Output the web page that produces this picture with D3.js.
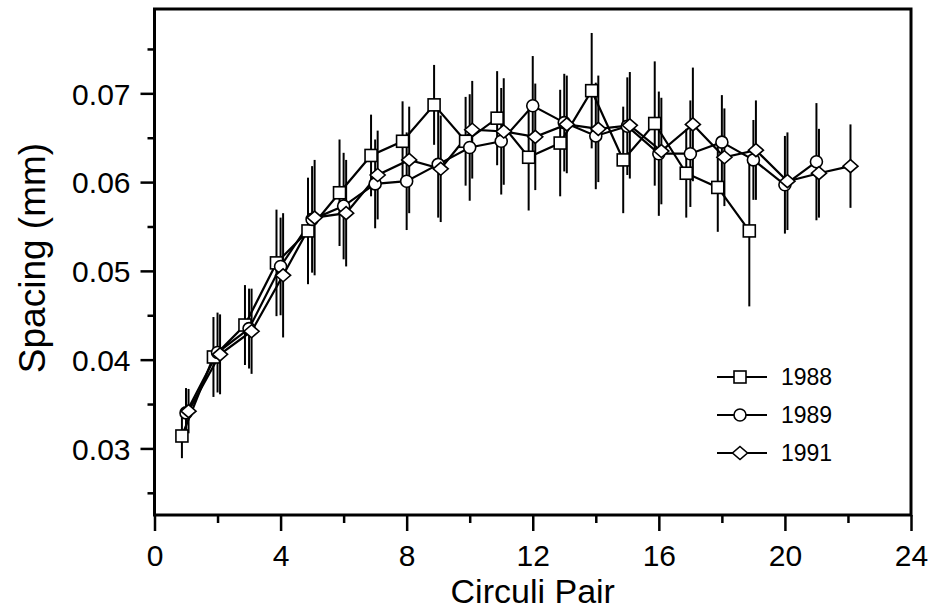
<!DOCTYPE html>
<html><head><meta charset="utf-8">
<script src="https://cdn.jsdelivr.net/npm/d3@7"></script>
<style>body{margin:0;background:#fff}svg{display:block}text{font-family:"Liberation Sans",Arial,sans-serif;fill:#000}</style>
</head><body><svg id="c" width="933" height="615"></svg>
<script>
const pairs1988 = [1,2,3,4,5,6,7,8,9,10,11,12,13,14,15,16,17,18,19];
const vals1988 = [0.0314,0.0403,0.0439,0.0509,0.0545,0.0588,0.0630,0.0646,0.0687,0.0646,0.0672,0.0628,0.0644,0.0703,0.0625,0.0666,0.0610,0.0594,0.0545];
const err1988 = [0.0025,0.0045,0.0045,0.006,0.006,0.006,0.0046,0.0045,0.0045,0.005,0.0053,0.006,0.006,0.0065,0.006,0.007,0.005,0.005,0.0085];
const pairs1989 = [1,2,3,4,5,6,7,8,9,10,11,12,13,14,15,16,17,18,19,20,21];
const vals1989 = [0.0340,0.0408,0.0435,0.0505,0.0558,0.0573,0.0598,0.0601,0.0620,0.0639,0.0646,0.0686,0.0667,0.0652,0.0663,0.0632,0.0632,0.0645,0.0625,0.0597,0.0623];
const err1989 = [0.0028,0.0045,0.0045,0.0055,0.006,0.006,0.005,0.0055,0.006,0.006,0.006,0.0056,0.0055,0.006,0.0055,0.007,0.006,0.0053,0.0045,0.0055,0.0066];
const pairs1991 = [1,2,3,4,5,6,7,8,9,10,11,12,13,14,15,16,17,18,19,20,21,22];
const vals1991 = [0.0342,0.0406,0.0432,0.0495,0.0560,0.0565,0.0608,0.0625,0.0615,0.0659,0.0657,0.0651,0.0665,0.0660,0.0664,0.0635,0.0665,0.0628,0.0636,0.0601,0.0610,0.0618];
const err1991 = [0.0025,0.0045,0.0048,0.007,0.0065,0.006,0.005,0.006,0.006,0.0055,0.006,0.006,0.0055,0.006,0.006,0.006,0.0064,0.0055,0.0056,0.0055,0.005,0.0047];
const xTicks = [0,4,8,12,16,20,24];
const yTicks = [0.03,0.04,0.05,0.06,0.07];
const legendLabels = ["1988","1989","1991"];

const series = [
  {name:legendLabels[0], x:pairs1988, y:vals1988, e:err1988, sym:"square", dx:-0.13},
  {name:legendLabels[1], x:pairs1989, y:vals1989, e:err1989, sym:"circle", dx:0.0},
  {name:legendLabels[2], x:pairs1991, y:vals1991, e:err1991, sym:"diamond", dx:0.08}
];

const L=154.5, R=911, T=9, B=515;
const svg = d3.select("#c");
const x = d3.scaleLinear().domain([0,24]).range([L,R]);
const y = d3.scaleLinear().domain([0.0225,0.0795]).range([B,T]);

series.forEach(s=>{
  svg.append("g").selectAll("line").data(s.x.map((p,i)=>({p,v:s.y[i],e:s.e[i]}))).join("line")
    .attr("x1",d=>x(d.p+s.dx)).attr("x2",d=>x(d.p+s.dx))
    .attr("y1",d=>y(d.v-d.e)).attr("y2",d=>y(d.v+d.e))
    .attr("stroke","#000").attr("stroke-width",2);
});
series.forEach(s=>{
  const pts = s.x.map((p,i)=>[p+s.dx,s.y[i]]);
  svg.append("path").datum(pts)
    .attr("d",d3.line().x(d=>x(d[0])).y(d=>y(d[1])))
    .attr("fill","none").attr("stroke","#000").attr("stroke-width",2.2);
});
function marker(g,sym){
  if(sym==="square") g.append("rect").attr("x",-6).attr("y",-6).attr("width",12).attr("height",12);
  else if(sym==="circle") g.append("circle").attr("r",6);
  else g.append("path").attr("d","M0,-6.5L7.5,0L0,6.5L-7.5,0Z");
  g.selectAll("*").attr("fill","#fff").attr("stroke","#000").attr("stroke-width",1.6);
}
series.forEach(s=>{
  s.x.forEach((p,i)=>{
    const g = svg.append("g").attr("transform",`translate(${x(p+s.dx)},${y(s.y[i])})`);
    marker(g,s.sym);
  });
});

const xAx = svg.append("g").attr("transform",`translate(0,${B})`)
  .call(d3.axisBottom(x).tickValues(xTicks).tickSize(16).tickPadding(14).tickFormat(d3.format("d")));
const xMin = svg.append("g").attr("transform",`translate(0,${B})`)
  .call(d3.axisBottom(x).tickValues(d3.range(2,24,4)).tickSize(8).tickFormat(""));
const yAx = svg.append("g").attr("transform",`translate(${L},0)`)
  .call(d3.axisLeft(y).tickValues(yTicks).tickSize(14).tickPadding(10).tickFormat(d3.format(".2f")));
const yMin = svg.append("g").attr("transform",`translate(${L},0)`)
  .call(d3.axisLeft(y).tickValues([0.025,0.035,0.045,0.055,0.065,0.075]).tickSize(7).tickFormat(""));
[xAx,xMin,yAx,yMin].forEach(a=>{
  a.select(".domain").remove();
  a.attr("font-family",null);
  a.selectAll(".tick line").attr("stroke","#000").attr("stroke-width",2.5);
});
xAx.selectAll("text").attr("font-size",30).attr("fill","#000");
yAx.selectAll("text").attr("font-size",30).attr("fill","#000").attr("dy","0.36em");

svg.append("rect").attr("x",L).attr("y",T).attr("width",R-L).attr("height",B-T)
  .attr("fill","none").attr("stroke","#000").attr("stroke-width",3);

svg.append("text").attr("x",(L+R)/2).attr("y",603).attr("text-anchor","middle")
  .attr("font-size",34).text("Circuli Pair");
svg.append("text").attr("transform",`translate(45,258) rotate(-90)`).attr("text-anchor","middle")
  .attr("font-size",37).text("Spacing (mm)");

const legY = [377,415,453];
series.forEach((s,i)=>{
  const g = svg.append("g").attr("transform",`translate(0,${legY[i]})`);
  g.append("line").attr("x1",717).attr("x2",767).attr("y1",0).attr("y2",0).attr("stroke","#000").attr("stroke-width",2);
  const m = g.append("g").attr("transform","translate(740,0)"); marker(m,s.sym);
  g.append("text").attr("x",781).attr("y",0).attr("dy","0.36em").attr("font-size",23).text(s.name);
});
</script></body></html>
